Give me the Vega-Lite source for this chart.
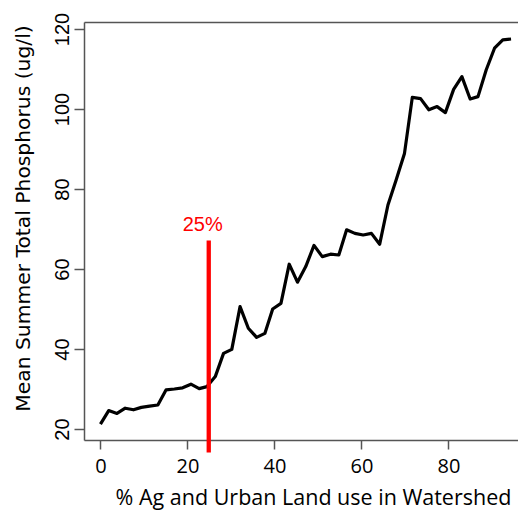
{
  "$schema": "https://vega.github.io/schema/vega-lite/v6.json",
  "width": 434,
  "height": 418,
  "autosize": {"type": "none"},
  "padding": {"left": 84, "top": 22, "right": 0, "bottom": 72},
  "background": "white",
  "config": {
    "view": {"stroke": null},
    "axis": {"grid": false, "domainColor": "#555555", "domainWidth": 1.5, "tickColor": "#555555", "tickWidth": 1.5, "labelColor": "black", "titleColor": "black", "titleFontWeight": "normal"}
  },
  "data": {"values": [
    {"pct": 0.0, "tp": 21.2}, {"pct": 1.9, "tp": 24.6}, {"pct": 3.8, "tp": 23.9}, {"pct": 5.7, "tp": 25.2},
    {"pct": 7.6, "tp": 24.8}, {"pct": 9.4, "tp": 25.4}, {"pct": 11.3, "tp": 25.7}, {"pct": 13.2, "tp": 26.0},
    {"pct": 15.1, "tp": 29.8}, {"pct": 17.0, "tp": 30.0}, {"pct": 18.9, "tp": 30.3}, {"pct": 20.8, "tp": 31.2},
    {"pct": 22.7, "tp": 30.1}, {"pct": 24.5, "tp": 30.6}, {"pct": 26.4, "tp": 33.1}, {"pct": 28.3, "tp": 38.9},
    {"pct": 30.2, "tp": 39.9}, {"pct": 32.1, "tp": 50.6}, {"pct": 34.0, "tp": 45.2}, {"pct": 35.9, "tp": 42.9},
    {"pct": 37.8, "tp": 43.9}, {"pct": 39.6, "tp": 50.0}, {"pct": 41.5, "tp": 51.4}, {"pct": 43.4, "tp": 61.2},
    {"pct": 45.3, "tp": 56.7}, {"pct": 47.2, "tp": 60.6}, {"pct": 49.1, "tp": 65.9}, {"pct": 51.0, "tp": 63.1},
    {"pct": 52.9, "tp": 63.7}, {"pct": 54.8, "tp": 63.5}, {"pct": 56.6, "tp": 69.8}, {"pct": 58.5, "tp": 68.9},
    {"pct": 60.4, "tp": 68.5}, {"pct": 62.3, "tp": 68.9}, {"pct": 64.2, "tp": 66.2}, {"pct": 66.1, "tp": 76.0},
    {"pct": 68.0, "tp": 82.3}, {"pct": 69.9, "tp": 88.9}, {"pct": 71.7, "tp": 102.9}, {"pct": 73.6, "tp": 102.6},
    {"pct": 75.5, "tp": 99.8}, {"pct": 77.4, "tp": 100.6}, {"pct": 79.3, "tp": 99.1}, {"pct": 81.2, "tp": 104.9},
    {"pct": 83.1, "tp": 108.1}, {"pct": 85.0, "tp": 102.5}, {"pct": 86.8, "tp": 103.1}, {"pct": 88.7, "tp": 109.8},
    {"pct": 90.6, "tp": 115.2}, {"pct": 92.5, "tp": 117.3}, {"pct": 94.4, "tp": 117.5}
  ]},
  "layer": [
    {
      "mark": {"type": "line", "color": "black", "strokeWidth": 3.2, "strokeJoin": "round"},
      "encoding": {
        "x": {"field": "pct", "type": "quantitative",
              "scale": {"domain": [-3.78, 96.0], "nice": false, "zero": false},
              "axis": {"orient": "bottom", "values": [0, 20, 40, 60, 80], "tickSize": 9, "labelFont": "Open Sans", "labelFontSize": 20, "labelPadding": 7,
                       "title": "% Ag and Urban Land use in Watershed", "titleFont": "Open Sans", "titleFontSize": 21.5,
                       "titleX": 229, "titleY": 58, "titleBaseline": "middle", "titleAlign": "center", "titleAnchor": null}},
        "y": {"field": "tp", "type": "quantitative",
              "scale": {"domain": [17.25, 121.75], "nice": false, "zero": false},
              "axis": {"values": [20, 40, 60, 80, 100, 120], "tickSize": 10, "labelFont": "Liberation Sans", "labelFontSize": 20,
                       "labelAngle": 270, "labelAlign": "center", "labelBaseline": "bottom", "labelPadding": 2,
                       "title": "Mean Summer Total Phosphorus (ug/l)", "titleFont": "DejaVu Sans", "titleFontSize": 20.3,
                       "titleAngle": 270, "titleX": -61, "titleY": 196, "titleBaseline": "middle", "titleAlign": "center"}}
      }
    },
    {
      "data": {"values": [{"pct": 24.9, "tp": 14.1, "tp2": 67.1}]},
      "mark": {"type": "rule", "color": "#ff0000", "strokeWidth": 4.3, "clip": false},
      "encoding": {
        "x": {"field": "pct", "type": "quantitative",
              "axis": {"orient": "top", "labels": false, "ticks": false, "domain": true, "title": null}},
        "y": {"field": "tp", "type": "quantitative", "title": "Mean Summer Total Phosphorus (ug/l)"},
        "y2": {"field": "tp2"}
      }
    },
    {
      "data": {"values": [{"pct": 23.5, "tp": 71.1, "label": "25%"}]},
      "mark": {"type": "text", "color": "#ff0000", "font": "Liberation Sans", "fontSize": 20, "baseline": "middle", "align": "center"},
      "encoding": {
        "x": {"field": "pct", "type": "quantitative", "axis": null},
        "y": {"field": "tp", "type": "quantitative", "title": "Mean Summer Total Phosphorus (ug/l)"},
        "text": {"field": "label"}
      }
    }
  ],
  "resolve": {"axis": {"x": "independent"}}
}
